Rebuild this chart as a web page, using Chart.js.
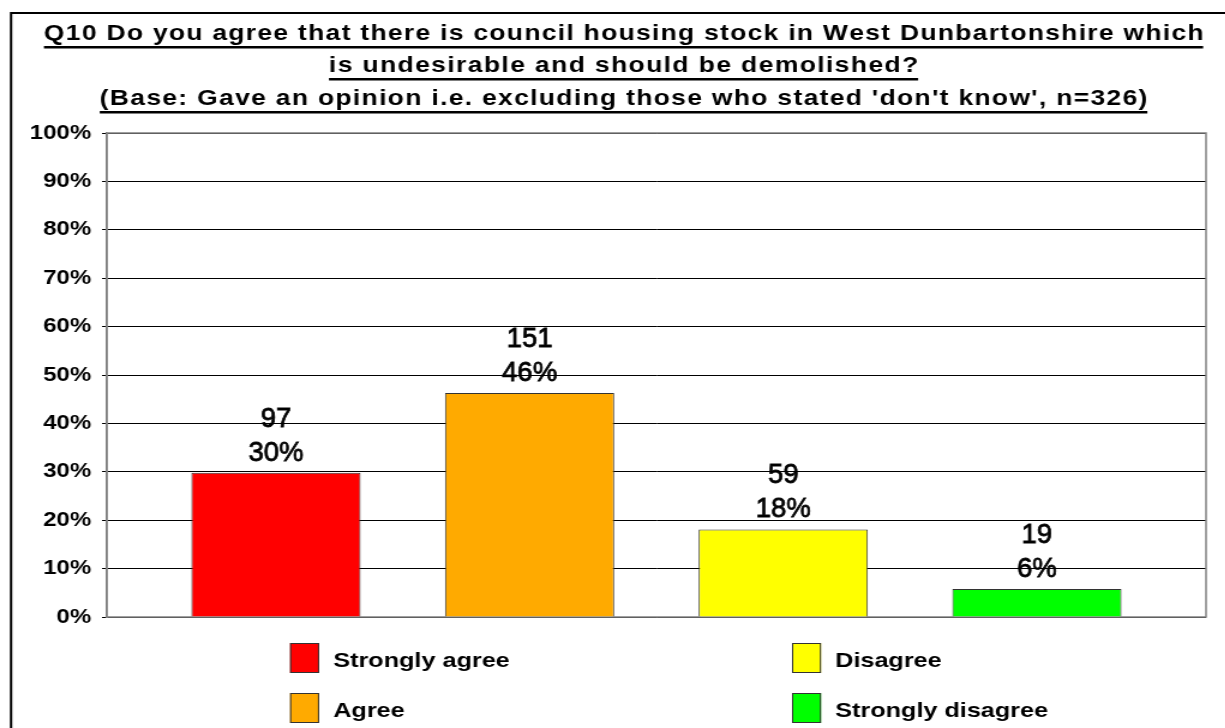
<!DOCTYPE html>
<html lang="en">
<head>
<meta charset="UTF-8">
<title>Q10 Council housing stock</title>
<script src="https://cdn.jsdelivr.net/npm/chart.js"></script>
<style>
  html, body { margin: 0; padding: 0; background: #fff; overflow: hidden; }
  /* the source picture is stretched sideways, so draw narrower and scale out */
  #wrap { position: relative; width: 1021px; height: 728px; transform: scaleX(1.2); transform-origin: 0 0; }
</style>
</head>
<body>
<div id="wrap"><canvas id="q10Chart"></canvas></div>
<script>
const titleLines = [
    "Q10 Do you agree that there is council housing stock in West Dunbartonshire which",
    "is undesirable and should be demolished?",
    "(Base: Gave an opinion i.e. excluding those who stated 'don't know', n=326)"
];
const categories = ["Strongly agree", "Agree", "Disagree", "Strongly disagree"];
const counts = [97, 151, 59, 19];
const percents = [29.8, 46.3, 18.1, 5.8];
const barColors = ["#FF0000", "#FFAA00", "#FFFF00", "#00FF00"];
const yTickValues = [0, 10, 20, 30, 40, 50, 60, 70, 80, 90, 100];

const FONT = '"Liberation Sans", Arial, sans-serif';

// title lines: baseline y, target width (title is letter-spaced in the source)
const titleLayout = [
    { y: 40, width: 966 },
    { y: 72, width: 491 },
    { y: 105, width: 873 }
];

function drawSpaced(ctx, text, cx, y, target) {
    const natural = ctx.measureText(text).width;
    const extra = text.length > 1 ? (target - natural) / (text.length - 1) : 0;
    let x = cx - target / 2;
    for (const ch of text) {
        ctx.fillText(ch, x, y);
        x += ctx.measureText(ch).width + extra;
    }
    return cx - target / 2;
}

const decorPlugin = {
    id: "decor",
    beforeDatasetsDraw(chart) {
        const { ctx, chartArea: a } = chart;
        ctx.save();
        ctx.strokeStyle = "#808080";
        ctx.lineWidth = 1.5;
        ctx.strokeRect(a.left, a.top, a.right - a.left, a.bottom - a.top);
        ctx.restore();
    },
    afterDatasetsDraw(chart) {
        const ctx = chart.ctx;
        ctx.fillStyle = "#000";
        ctx.strokeStyle = "#000";
        ctx.lineWidth = 0.8;
        ctx.font = "27px " + FONT;
        ctx.textAlign = "center";
        ctx.textBaseline = "alphabetic";
        chart.data.datasets.forEach((ds, i) => {
            const bar = chart.getDatasetMeta(i).data[0];
            const pctY = bar.y - 12;
            const pct = Math.round(percents[i]) + "%";
            const n = String(counts[i]);
            // value labels are narrower and a bit heavier than plain text
            ctx.save();
            ctx.translate(bar.x, pctY);
            ctx.scale(0.85, 1);
            ctx.fillText(pct, 0, 0);
            ctx.strokeText(pct, 0, 0);
            ctx.fillText(n, 0, -34);
            ctx.strokeText(n, 0, -34);
            ctx.restore();
        });
    },
    afterDraw(chart) {
        const ctx = chart.ctx;
        ctx.save();
        // outer frame (runs off the right and bottom edges)
        ctx.strokeStyle = "#000";
        ctx.lineWidth = 2;
        ctx.beginPath();
        ctx.moveTo(9.2, 760);
        ctx.lineTo(9.2, 13);
        ctx.lineTo(1100, 13);
        ctx.stroke();

        // title with underline
        ctx.fillStyle = "#000";
        ctx.font = "bold 22px " + FONT;
        ctx.textAlign = "left";
        ctx.textBaseline = "alphabetic";
        const cx = 519.6;
        titleLines.forEach((line, i) => {
            const t = titleLayout[i];
            const left = drawSpaced(ctx, line, cx, t.y, t.width);
            ctx.fillRect(left, t.y + 6, t.width, 2.5);
        });

        // legend, two columns
        ctx.font = "bold 21px " + FONT;
        categories.forEach((name, i) => {
            const col = Math.floor(i / 2), row = i % 2;
            const bx = 241.7 + col * 418.3;
            const by = 643 + row * 50;
            ctx.fillStyle = barColors[i];
            ctx.fillRect(bx, by, 24.2, 30);
            ctx.strokeStyle = "#333";
            ctx.lineWidth = 1;
            ctx.strokeRect(bx + 0.5, by + 0.5, 23.2, 29);
            ctx.fillStyle = "#000";
            ctx.fillText(name, bx + 36, by + 23.5);
        });
        ctx.restore();
    }
};

const ctx = document.getElementById("q10Chart").getContext("2d");
new Chart(ctx, {
    type: "bar",
    data: {
        labels: [""],
        datasets: categories.map((name, i) => ({
            label: name,
            data: [percents[i]],
            backgroundColor: barColors[i],
            borderColor: "#333",
            borderWidth: 1,
            barPercentage: 0.667,
            categoryPercentage: 0.923
        }))
    },
    options: {
        responsive: true,
        maintainAspectRatio: false,
        animation: false,
        layout: { padding: { left: 0, right: 16, top: 133, bottom: 111 } },
        plugins: {
            legend: { display: false },
            tooltip: { enabled: false },
            title: { display: false }
        },
        scales: {
            x: { display: false },
            y: {
                min: 0,
                max: 100,
                afterBuildTicks: s => { s.ticks = yTickValues.map(v => ({ value: v })); },
                afterFit: s => { s.width = 89; },
                ticks: {
                    callback: v => v + "%",
                    color: "#000",
                    padding: 9,
                    font: { family: FONT, size: 20, weight: "bold" }
                },
                grid: { color: "#000", lineWidth: 1, tickLength: 4 },
                border: { color: "#808080", width: 1.5 }
            }
        }
    },
    plugins: [decorPlugin]
});
</script>
</body>
</html>
